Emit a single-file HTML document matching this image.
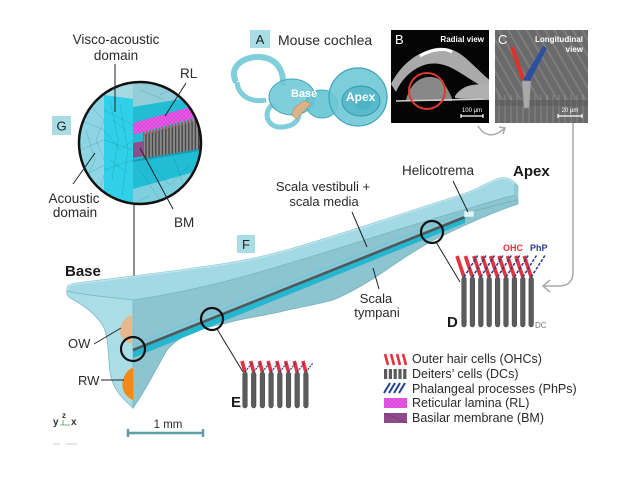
<!DOCTYPE html>
<html><head><meta charset="utf-8"><style>
html,body{margin:0;padding:0;background:#fff;}
svg{display:block;}
text{font-family:"Liberation Sans",sans-serif;}
</style></head><body>
<svg width="640" height="480" viewBox="0 0 640 480" xmlns="http://www.w3.org/2000/svg">
<defs>
  <clipPath id="gc"><circle cx="140" cy="143" r="61"/></clipPath>
  <clipPath id="bc"><rect x="391" y="30" width="98" height="93"/></clipPath>
  <clipPath id="cc"><rect x="495" y="30" width="93" height="93"/></clipPath>
  <pattern id="stripes" width="3.3" height="10" patternUnits="userSpaceOnUse">
    <rect width="3.3" height="10" fill="#8a8a8a"/><rect width="1.4" height="10" fill="#474747"/>
  </pattern>
  <pattern id="pinkh" width="4" height="4" patternUnits="userSpaceOnUse">
    <rect width="4" height="4" fill="#ea58ea"/><path d="M0,0 L4,4 M4,0 L0,4" stroke="#c23cc4" stroke-width="0.5"/>
  </pattern>
  <pattern id="cs" width="8" height="8" patternUnits="userSpaceOnUse" patternTransform="rotate(-30)">
    <rect width="2" height="8" fill="#ffffff" fill-opacity="0.12"/>
  </pattern>
  <pattern id="cv" width="6" height="8" patternUnits="userSpaceOnUse">
    <rect width="2" height="8" fill="#ffffff" fill-opacity="0.1"/>
  </pattern>
  <clipPath id="topclip"><path d="M67,291 C66,286 70,284 76,283 C110,279 160,273 200,267 C240,262 265,256 290,249 C340,235 400,214 460,195 C480,189 490,180 500,178 C506,177 512,179 515,183 L515,195 C505,197 490,202 470,208 C420,222 350,245 290,263 C250,275 200,290 133,300 C110,297 80,295 67,291 Z"/></clipPath>
</defs>

<!-- ===== G circle ===== -->
<g clip-path="url(#gc)">
  <rect x="78" y="80" width="126" height="130" fill="#8dd5e2"/>
  <rect x="133" y="80" width="72" height="130" fill="#22bcd4"/>
  <polygon points="133,80 205,80 205,95 133,107" fill="#93cdd8"/>
  <polygon points="78,80 133,80 133,99 104,95 78,91" fill="#a6dae3"/>
  <polygon points="104,95 133,99 133,210 104,210" fill="#30d0e8"/>
  <polygon points="133,189 205,169 205,210 133,210" fill="#7fd0de"/>
  <polygon points="133,123 205,103 205,115 133,135" fill="url(#pinkh)"/>
  <polygon points="143,135 205,118 205,150 143,160" fill="url(#stripes)"/>
  <line x1="143" y1="134" x2="205" y2="117" stroke="#e23a3a" stroke-width="3" stroke-dasharray="1.6,1.7"/>
  <polygon points="133,143 144,141 144,156 133,158" fill="#8d4e8e"/>
  <line x1="133" y1="161" x2="205" y2="149" stroke="#179db3" stroke-width="2"/>
  <path d="M80,120 L104,130 M80,150 L104,140 M85,175 L104,165 M90,105 L104,120 L96,140 L104,160 M100,190 L104,175 M104,110 L133,125 M104,140 L133,150 M104,170 L133,160 M110,100 L118,140 L112,180 M120,105 L128,150 L122,195 M104,130 L120,150 L133,140 M150,165 L170,185 L190,165 M140,170 L160,200 M175,160 L185,190 M160,95 L180,85 M140,90 L165,100 M150,195 L133,205 M190,100 L200,88 M86,130 L95,160 L84,185 M113,120 L125,130 M110,160 L126,172" stroke="#0b6676" stroke-opacity="0.35" stroke-width="0.5" fill="none"/>
</g>
<circle cx="140" cy="143" r="61" fill="none" stroke="#111" stroke-width="2.5"/>

<!-- G labels -->
<text x="116" y="44" font-size="13.5" fill="#2a2a2a" text-anchor="middle">Visco-acoustic</text>
<text x="116" y="60" font-size="13.5" fill="#2a2a2a" text-anchor="middle">domain</text>
<line x1="115" y1="64" x2="115" y2="112" stroke="#222" stroke-width="1"/>
<text x="180" y="78" font-size="13.5" fill="#2a2a2a">RL</text>
<line x1="186" y1="83" x2="165" y2="116" stroke="#222" stroke-width="1"/>
<rect x="52" y="116" width="19" height="19" fill="#a9dde6"/>
<text x="61.5" y="130.5" font-size="13" fill="#222" text-anchor="middle">G</text>
<text x="74" y="203" font-size="13.5" fill="#2a2a2a" text-anchor="middle">Acoustic</text>
<text x="75" y="217" font-size="13.5" fill="#2a2a2a" text-anchor="middle">domain</text>
<line x1="73" y1="184" x2="95" y2="153" stroke="#222" stroke-width="1"/>
<text x="174" y="227" font-size="13.5" fill="#2a2a2a">BM</text>
<line x1="173" y1="209" x2="140" y2="148" stroke="#222" stroke-width="1"/>
<line x1="134" y1="204" x2="134" y2="338" stroke="#222" stroke-width="1"/>

<!-- ===== A cochlea ===== -->
<rect x="250" y="30" width="20" height="18" fill="#a9dde6"/>
<text x="260" y="44" font-size="13" fill="#222" text-anchor="middle">A</text>
<text x="278" y="45" font-size="14" fill="#2a2a2a">Mouse cochlea</text>
<g>
  <path d="M236,82 C228,66 245,56 260,57 C275,58 284,68 283,86" fill="none" stroke="#62c2d2" stroke-width="6" stroke-opacity="0.8"/>
  <path d="M237,82 C238,95 250,103 266,100" fill="none" stroke="#62c2d2" stroke-width="5" stroke-opacity="0.8"/>
  <path d="M274,104 C262,110 266,129 283,127 C295,126 302,118 298,108" fill="none" stroke="#62c2d2" stroke-width="5" stroke-opacity="0.8"/>
  <ellipse cx="292" cy="97" rx="23" ry="18" fill="#72c9d7" fill-opacity="0.9" stroke="#3ea8ba" stroke-width="1"/>
  <ellipse cx="322" cy="104" rx="16" ry="14" fill="#66c4d4" fill-opacity="0.9" stroke="#3ea8ba" stroke-width="1"/>
  <circle cx="358" cy="97" r="29" fill="#70c8d6" fill-opacity="0.9" stroke="#3aa5b8" stroke-width="1.2"/>
  <ellipse cx="361" cy="101" rx="19" ry="15" fill="#58bacb" stroke="#3199ad" stroke-width="1"/>
  <ellipse cx="363" cy="102" rx="9" ry="7" fill="#4db3c5"/>
  <path d="M293,116 C290,110 300,102 306,101 L311,104 C307,108 300,114 297,119 Z" fill="#dcb386" stroke="#b98e5e" stroke-width="0.6"/>
  <text x="291" y="97" font-size="11" font-weight="bold" fill="#ffffff">Base</text>
  <text x="346" y="101" font-size="12" font-weight="bold" fill="#ffffff">Apex</text>
</g>

<!-- ===== B image ===== -->
<rect x="391" y="30" width="98" height="93" fill="#050505"/>
<g clip-path="url(#bc)">
  <path d="M391,84 C400,66 416,52 436,48 C452,46 463,55 471,63 C479,70 485,77 490,80 L490,90 C480,86 472,80 462,74 C450,66 440,62 428,64 C414,67 402,78 396,92 Z" fill="#c8c8c8" fill-opacity="0.85"/>
  <path d="M420,56 C430,50 445,47 452,52" stroke="#ffffff" stroke-width="3" fill="none"/>
  <path d="M406,100 C410,84 420,76 432,77 C442,78 447,87 452,98 L452,101 L406,101 Z" fill="#888888"/>
  <path d="M455,96 C462,86 472,83 490,85 L490,98 C475,99 462,99 455,98 Z" fill="#b0b0b0"/>
  <line x1="396" y1="101" x2="489" y2="99" stroke="#cfcfcf" stroke-width="1.5"/>
</g>
<circle cx="427" cy="91" r="18" fill="none" stroke="#e03a30" stroke-width="2"/>
<text x="395" y="44" font-size="13" fill="#ffffff">B</text>
<text x="484" y="42" font-size="8" font-weight="bold" fill="#ffffff" text-anchor="end">Radial view</text>
<text x="472" y="112" font-size="6" fill="#ffffff" text-anchor="middle">100 µm</text>
<path d="M461,114 L461,118 M461,116 L483,116 M483,114 L483,118" stroke="#ffffff" stroke-width="1.2"/>

<!-- ===== C image ===== -->
<rect x="495" y="30" width="93" height="93" fill="#6a6a6a"/>
<g clip-path="url(#cc)">
  <rect x="495" y="30" width="93" height="70" fill="url(#cs)"/>
  <rect x="495" y="95" width="93" height="28" fill="url(#cv)"/>
  <rect x="495" y="100" width="93" height="6" fill="#555" fill-opacity="0.4"/>
</g>
<line x1="512" y1="47" x2="523" y2="79" stroke="#e0302a" stroke-width="4"/>
<path d="M543,46 L547,48 L530,81 L523,80 Z" fill="#2d4fa0"/>
<path d="M522,81 L531,81 L529,108 L524,108 Z" fill="#a9a9a9" stroke="#888" stroke-width="0.5"/>
<text x="498" y="44" font-size="13" fill="#ffffff">C</text>
<text x="583" y="42" font-size="8" font-weight="bold" fill="#ffffff" text-anchor="end">Longitudinal</text>
<text x="583" y="52" font-size="8" font-weight="bold" fill="#ffffff" text-anchor="end">view</text>
<text x="570" y="112" font-size="6" fill="#ffffff" text-anchor="middle">20 µm</text>
<path d="M558,114 L558,118 M558,116 L582,116 M582,114 L582,118" stroke="#ffffff" stroke-width="1.2"/>

<!-- gray arrows -->
<path d="M478,126 Q488,142 504,129" fill="none" stroke="#aaaaaa" stroke-width="1.5"/>
<path d="M499,127 L505,128 L503,134" fill="none" stroke="#aaaaaa" stroke-width="1.5"/>
<path d="M573,123 L573,272 Q573,286 559,286 L544,286" fill="none" stroke="#aaaaaa" stroke-width="1.5"/>
<path d="M550,280 L543,286 L550,292" fill="none" stroke="#aaaaaa" stroke-width="1.5"/>

<!-- ===== Main 3D model ===== -->
<path d="M133,300 C200,290 250,275 290,263 C350,245 420,222 470,208 C490,202 505,197 515,195 L518,204 C500,210 470,222 430,242 C405,256 390,268 374,278 C360,287 345,295 333,300 C310,306 290,309 280,312 C260,316 240,319 227,323 C210,327 198,329 190,333 C180,338 172,344 167,350 C158,365 146,390 133,408 Z" fill="#8cc4cf" stroke="#74afbb" stroke-width="0.8"/>
<path d="M67,291 C66,286 70,284 76,283 C110,279 160,273 200,267 C240,262 265,256 290,249 C340,235 400,214 460,195 C480,189 490,180 500,178 C506,177 512,179 515,183 L515,195 C505,197 490,202 470,208 C420,222 350,245 290,263 C250,275 200,290 133,300 C110,297 80,295 67,291 Z" fill="#a3d9e4" stroke="#7cb9c5" stroke-width="0.8"/>
<g clip-path="url(#topclip)">
  <path d="M67,291 C66,286 70,284 76,283 C110,279 160,273 200,267 C240,262 265,256 290,249 C340,235 400,214 460,195 C480,189 490,180 500,178 C506,177 512,179 515,183" fill="none" stroke="#bde5ec" stroke-width="3"/>
</g>
<path d="M515,183 L518,186 L518,204 L515,195 Z" fill="#94cbd6" stroke="#7cb9c5" stroke-width="0.6"/>
<path d="M67,291 C80,295 110,297 133,300 L133,408 C122,398 112,388 110,372 C108,358 109,340 104,328 C98,316 85,306 72,299 C68,297 66,294 67,291 Z" fill="#abdde7" stroke="#7cb9c5" stroke-width="0.8"/>
<path d="M132,315 C123,317 118,328 121,336 C123,340 128,343 132,344 Z" fill="#e6b98c"/>
<path d="M133,368 C124,370 120,384 124,392 C126,396 130,399 133,400 Z" fill="#f28a1a"/>
<polygon points="133,350 465,217 465,223 133,358" fill="#27b6d0"/>
<line x1="133" y1="345" x2="465" y2="212" stroke="#6cc8da" stroke-width="1.2"/>
<line x1="133" y1="350" x2="465" y2="217" stroke="#4f585a" stroke-width="2.6"/>
<line x1="470" y1="212" x2="517" y2="200" stroke="#74afbb" stroke-width="0.8"/>
<rect x="464" y="211" width="10" height="6" fill="#dff5f8" stroke="#8fc9d3" stroke-width="0.6"/>

<circle cx="133" cy="349" r="12" fill="none" stroke="#111" stroke-width="2.2"/>
<circle cx="212" cy="319" r="11" fill="none" stroke="#111" stroke-width="2.2"/>
<circle cx="432" cy="232" r="11" fill="none" stroke="#111" stroke-width="2.2"/>

<text x="65" y="276" font-size="15" font-weight="bold" fill="#1a1a1a">Base</text>
<text x="513" y="176" font-size="15" font-weight="bold" fill="#1a1a1a">Apex</text>
<rect x="237" y="235" width="18" height="18" fill="#a9dde6"/>
<text x="246" y="249" font-size="13" fill="#222" text-anchor="middle">F</text>
<text x="323" y="191" font-size="13" fill="#2a2a2a" text-anchor="middle">Scala vestibuli +</text>
<text x="324" y="206" font-size="13" fill="#2a2a2a" text-anchor="middle">scala media</text>
<line x1="352" y1="212" x2="367" y2="247" stroke="#222" stroke-width="1"/>
<text x="402" y="175" font-size="13.5" fill="#2a2a2a">Helicotrema</text>
<line x1="453" y1="181" x2="468" y2="212" stroke="#222" stroke-width="1"/>
<text x="376" y="303" font-size="13" fill="#2a2a2a" text-anchor="middle">Scala</text>
<text x="377" y="317" font-size="13" fill="#2a2a2a" text-anchor="middle">tympani</text>
<line x1="379" y1="289" x2="373" y2="268" stroke="#222" stroke-width="1"/>
<text x="68" y="348" font-size="13" fill="#2a2a2a">OW</text>
<line x1="94" y1="344" x2="121" y2="328" stroke="#222" stroke-width="1"/>
<text x="78" y="385" font-size="13" fill="#2a2a2a">RW</text>
<line x1="101" y1="380" x2="124" y2="380" stroke="#222" stroke-width="1"/>

<line x1="217" y1="329" x2="243" y2="372" stroke="#222" stroke-width="1"/>
<line x1="436" y1="242" x2="460" y2="282" stroke="#222" stroke-width="1"/>

<!-- ===== D diagram ===== -->
<g>
  <g fill="#5c5c5c" stroke="#3f3f3f" stroke-width="0.5">
    <rect x="461.7" y="277" width="4.6" height="50" rx="2.3"/>
    <rect x="470.1" y="277" width="4.6" height="50" rx="2.3"/>
    <rect x="478.5" y="277" width="4.6" height="50" rx="2.3"/>
    <rect x="486.9" y="277" width="4.6" height="50" rx="2.3"/>
    <rect x="495.3" y="277" width="4.6" height="50" rx="2.3"/>
    <rect x="503.7" y="277" width="4.6" height="50" rx="2.3"/>
    <rect x="512.1" y="277" width="4.6" height="50" rx="2.3"/>
    <rect x="520.5" y="277" width="4.6" height="50" rx="2.3"/>
    <rect x="528.9" y="277" width="4.6" height="50" rx="2.3"/>
  </g>
  <g stroke="#e5323b" stroke-width="3.6">
    <line x1="457" y1="256" x2="464" y2="277"/>
    <line x1="465.4" y1="256" x2="472.4" y2="277"/>
    <line x1="473.8" y1="256" x2="480.8" y2="277"/>
    <line x1="482.2" y1="256" x2="489.2" y2="277"/>
    <line x1="490.6" y1="256" x2="497.6" y2="277"/>
    <line x1="499" y1="256" x2="506" y2="277"/>
    <line x1="507.4" y1="256" x2="514.4" y2="277"/>
    <line x1="515.8" y1="256" x2="522.8" y2="277"/>
    <line x1="524.2" y1="256" x2="531.2" y2="277"/>
  </g>
  <g stroke="#283c8c" stroke-width="1.5" stroke-dasharray="3,1.5">
    <line x1="464" y1="277" x2="478" y2="255"/>
    <line x1="472.4" y1="277" x2="486.4" y2="255"/>
    <line x1="480.8" y1="277" x2="494.8" y2="255"/>
    <line x1="489.2" y1="277" x2="503.2" y2="255"/>
    <line x1="497.6" y1="277" x2="511.6" y2="255"/>
    <line x1="506" y1="277" x2="520" y2="255"/>
    <line x1="514.4" y1="277" x2="528.4" y2="255"/>
    <line x1="522.8" y1="277" x2="536.8" y2="255"/>
    <line x1="531.2" y1="277" x2="545.2" y2="255"/>
  </g>
  <text x="503" y="251" font-size="9" font-weight="bold" fill="#e5323b">OHC</text>
  <text x="530" y="251" font-size="9" font-weight="bold" fill="#283c8c">PhP</text>
  <text x="447" y="327" font-size="15" font-weight="bold" fill="#1a1a1a">D</text>
  <text x="535" y="328" font-size="8" fill="#777">DC</text>
</g>

<!-- ===== E diagram ===== -->
<g>
  <g fill="#5c5c5c" stroke="#3f3f3f" stroke-width="0.5">
    <rect x="242.7" y="372" width="4.6" height="36" rx="2.3"/>
    <rect x="251.4" y="372" width="4.6" height="36" rx="2.3"/>
    <rect x="260.1" y="372" width="4.6" height="36" rx="2.3"/>
    <rect x="268.8" y="372" width="4.6" height="36" rx="2.3"/>
    <rect x="277.5" y="372" width="4.6" height="36" rx="2.3"/>
    <rect x="286.2" y="372" width="4.6" height="36" rx="2.3"/>
    <rect x="294.9" y="372" width="4.6" height="36" rx="2.3"/>
    <rect x="303.6" y="372" width="4.6" height="36" rx="2.3"/>
  </g>
  <g stroke="#e5323b" stroke-width="3.6">
    <line x1="242" y1="361" x2="245" y2="372"/>
    <line x1="250.7" y1="361" x2="253.7" y2="372"/>
    <line x1="259.4" y1="361" x2="262.4" y2="372"/>
    <line x1="268.1" y1="361" x2="271.1" y2="372"/>
    <line x1="276.8" y1="361" x2="279.8" y2="372"/>
    <line x1="285.5" y1="361" x2="288.5" y2="372"/>
    <line x1="294.2" y1="361" x2="297.2" y2="372"/>
    <line x1="302.9" y1="361" x2="305.9" y2="372"/>
  </g>
  <g stroke="#283c8c" stroke-width="1.2" stroke-dasharray="2,1">
    <line x1="245" y1="372" x2="252" y2="363"/>
    <line x1="253.7" y1="372" x2="260.7" y2="363"/>
    <line x1="262.4" y1="372" x2="269.4" y2="363"/>
    <line x1="271.1" y1="372" x2="278.1" y2="363"/>
    <line x1="279.8" y1="372" x2="286.8" y2="363"/>
    <line x1="288.5" y1="372" x2="295.5" y2="363"/>
    <line x1="297.2" y1="372" x2="304.2" y2="363"/>
    <line x1="305.9" y1="372" x2="312.9" y2="363"/>
  </g>
  <text x="231" y="407" font-size="15" font-weight="bold" fill="#1a1a1a">E</text>
</g>

<!-- ===== Legend ===== -->
<g stroke="#e5323b" stroke-width="2.6">
  <line x1="385" y1="354" x2="388" y2="365"/>
  <line x1="391" y1="354" x2="394" y2="365"/>
  <line x1="397" y1="354" x2="400" y2="365"/>
  <line x1="403" y1="354" x2="406" y2="365"/>
</g>
<g fill="#5a5a5a">
  <rect x="384" y="369" width="3.2" height="10"/>
  <rect x="388.8" y="369" width="3.2" height="10"/>
  <rect x="393.6" y="369" width="3.2" height="10"/>
  <rect x="398.4" y="369" width="3.2" height="10"/>
  <rect x="403.2" y="369" width="3.2" height="10"/>
</g>
<g stroke="#23408f" stroke-width="2">
  <line x1="384" y1="393" x2="390" y2="383"/>
  <line x1="389" y1="393" x2="395" y2="383"/>
  <line x1="394" y1="393" x2="400" y2="383"/>
  <line x1="399" y1="393" x2="405" y2="383"/>
</g>
<rect x="384" y="398" width="23" height="10" fill="url(#pinkh)"/>
<rect x="384" y="413" width="23" height="10" fill="#8e4a8a"/>
<path d="M384,413 L407,423" stroke="#6d3369" stroke-width="0.6"/>
<g font-size="12.5" fill="#2a2a2a">
  <text x="412" y="363">Outer hair cells (OHCs)</text>
  <text x="412" y="378">Deiters’ cells (DCs)</text>
  <text x="412" y="393">Phalangeal processes (PhPs)</text>
  <text x="412" y="407">Reticular lamina (RL)</text>
  <text x="412" y="422">Basilar membrane (BM)</text>
</g>

<!-- axis + scale bar -->
<text x="53" y="425" font-size="10" font-weight="bold" fill="#333">y</text>
<text x="62" y="418" font-size="8" font-weight="bold" fill="#333">z</text>
<text x="71" y="425" font-size="10" font-weight="bold" fill="#333">x</text>
<path d="M63,420 L63,425 M60,425 L70,425" stroke="#4a9a5a" stroke-width="0.8"/>
<text x="168" y="428" font-size="11.5" fill="#2a2a2a" text-anchor="middle">1 mm</text>
<path d="M128,429 L128,437 M128,433 L203,433 M203,429 L203,437" stroke="#5e9ea6" stroke-width="2.5"/>
<path d="M53,444 L60,444 M66,444 L77,444" stroke="#dddddd" stroke-width="1.5"/>
</svg>
</body></html>
